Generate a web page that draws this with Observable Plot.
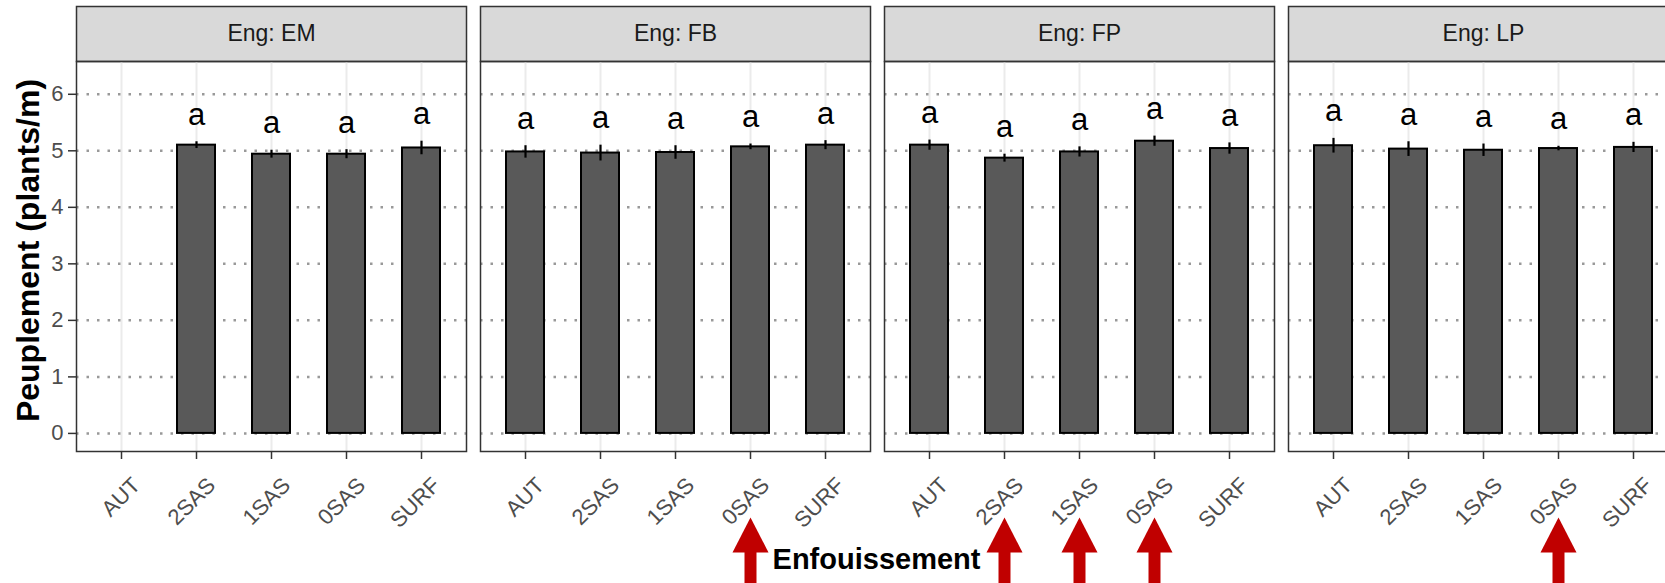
<!DOCTYPE html>
<html>
<head>
<meta charset="utf-8">
<script src="https://cdn.jsdelivr.net/npm/d3@7"></script>
<script src="https://cdn.jsdelivr.net/npm/@observablehq/plot@0.6"></script>
<style>
  html, body { margin: 0; padding: 0; background: #fff; overflow: hidden; }
  #chart { width: 1680px; height: 583px; overflow: hidden; }
  #chart svg { max-width: none !important; }
</style>
</head>
<body>
<div id="chart"></div>
<script>
// ---- data ----
const engines = ["EM", "FB", "FP", "LP"];
const categories = ["AUT", "2SAS", "1SAS", "0SAS", "SURF"];
const meanEM = [null, 5.10, 4.94, 4.94, 5.05];
const seEM   = [null, 0.06, 0.07, 0.08, 0.12];
const meanFB = [4.98, 4.96, 4.97, 5.07, 5.10];
const seFB   = [0.11, 0.14, 0.12, 0.05, 0.08];
const meanFP = [5.10, 4.87, 4.98, 5.17, 5.04];
const seFP   = [0.09, 0.07, 0.09, 0.09, 0.10];
const meanLP = [5.09, 5.03, 5.01, 5.04, 5.06];
const seLP   = [0.13, 0.13, 0.11, 0.04, 0.09];
const lettersEM = ["", "a", "a", "a", "a"];
const lettersFB = ["a", "a", "a", "a", "a"];
const lettersFP = ["a", "a", "a", "a", "a"];
const lettersLP = ["a", "a", "a", "a", "a"];
const yTicks = [0, 1, 2, 3, 4, 5, 6];
const arrowEng = ["FB", "FP", "FP", "FP", "LP"];
const arrowCat = ["0SAS", "2SAS", "1SAS", "0SAS", "0SAS"];
const yTitle = "Peuplement (plants/m)";
const xTitle = "Enfouissement";

// ---- build tables ----
const series = {EM: [meanEM, seEM, lettersEM], FB: [meanFB, seFB, lettersFB], FP: [meanFP, seFP, lettersFP], LP: [meanLP, seLP, lettersLP]};
const rows = [];
const grid = [];
for (const eng of engines) {
  const [m, s, l] = series[eng];
  categories.forEach((cat, i) => {
    grid.push({eng, cat});
    if (m[i] != null) rows.push({eng, cat, mean: m[i], se: s[i], lab: l[i]});
  });
}
const yAxisRows = yTicks.map(v => ({eng: engines[0], v}));
const arrows = arrowEng.map((eng, i) => ({eng, cat: arrowCat[i]}));

const FONT = '"Liberation Sans", Arial, Helvetica, sans-serif';
const RED = "#C00000";
const arrowHead = {
  draw(context) {
    context.moveTo(0, -17.5);
    context.lineTo(18, 17.5);
    context.lineTo(-18, 17.5);
    context.closePath();
  }
};

const chart = Plot.plot({
  width: 1680,
  height: 583,
  marginLeft: 76,
  marginRight: 2,
  marginTop: 61,
  marginBottom: 132,
  style: {fontFamily: FONT, background: "white", overflow: "visible", color: "#333", maxWidth: "none"},
  fx: {domain: engines, paddingInner: 14 / 404, paddingOuter: 0, axis: null, label: null},
  x: {domain: categories, type: "band", paddingInner: 0.5, paddingOuter: 0.35, axis: null, label: null},
  y: {domain: [-0.32, 6.58], axis: null, label: null},
  marks: [
    // strip header
    Plot.frame({fill: "#D9D9D9", stroke: "#333", strokeWidth: 1.5, insetTop: -55, insetBottom: 390}),
    Plot.text(engines, {fx: d => d, text: d => "Eng: " + d, frameAnchor: "top", lineAnchor: "middle", dy: -27.5, fontSize: 23, fill: "#1A1A1A"}),
    // vertical grid
    Plot.ruleX(grid, {fx: "eng", x: "cat", stroke: "#EBEBEB", strokeWidth: 2}),
    // dotted horizontal lines
    Plot.ruleY(yTicks, {y: d => d, stroke: "#999", strokeWidth: 2.5, strokeDasharray: "2.5,8"}),
    // bars
    Plot.barY(rows, {fx: "eng", x: "cat", y: "mean", fill: "#595959", stroke: "black", strokeWidth: 2}),
    // error bars
    Plot.ruleX(rows, {fx: "eng", x: "cat", y1: d => d.mean - d.se, y2: d => d.mean + d.se, stroke: "black", strokeWidth: 2.2}),
    // letters
    Plot.text(rows, {fx: "eng", x: "cat", y: d => d.mean + d.se, text: "lab", dy: -27, fontSize: 31, fill: "black"}),
    // y axis ticks and labels
    Plot.ruleY(yAxisRows, {fx: "eng", y: "v", stroke: "#333", strokeWidth: 1.5, insetLeft: -8, insetRight: 390}),
    Plot.text(yAxisRows, {fx: "eng", y: "v", text: d => String(d.v), frameAnchor: "left", textAnchor: "end", lineAnchor: "middle", dx: -13, fontSize: 22, fill: "#4D4D4D"}),
    // x ticks
    Plot.ruleX(grid, {fx: "eng", x: "cat", stroke: "#333", strokeWidth: 1.5, insetTop: 390, insetBottom: -8}),
    // x tick labels
    Plot.text(grid, {fx: "eng", x: "cat", text: "cat", frameAnchor: "bottom", rotate: -45, textAnchor: "end", lineAnchor: "top", dx: 9, dy: 24, fontSize: 22, fill: "#4D4D4D"}),
    // panel border
    Plot.frame({stroke: "#333", strokeWidth: 1.5}),
    // y title
    Plot.text([{eng: "EM"}], {fx: "eng", frameAnchor: "left", textAnchor: "middle", lineAnchor: "middle", text: () => yTitle, rotate: -90, dx: -48, dy: -6, fontSize: 32, fontWeight: "bold", fill: "black"}),
    // x title
    Plot.text([{eng: "FB"}], {fx: "eng", frameAnchor: "bottom", textAnchor: "middle", lineAnchor: "middle", text: () => xTitle, dx: 201, dy: 108, fontSize: 29, fontWeight: "bold", fill: "black"}),
    // arrows
    Plot.ruleX(arrows, {fx: "eng", x: "cat", stroke: RED, strokeWidth: 12, insetTop: 487, insetBottom: -145}),
    Plot.dot(arrows, {fx: "eng", x: "cat", frameAnchor: "bottom", dy: 83.5, symbol: arrowHead, r: 10, fill: RED, stroke: "none"})
  ]
});
document.getElementById("chart").append(chart);
</script>
</body>
</html>
